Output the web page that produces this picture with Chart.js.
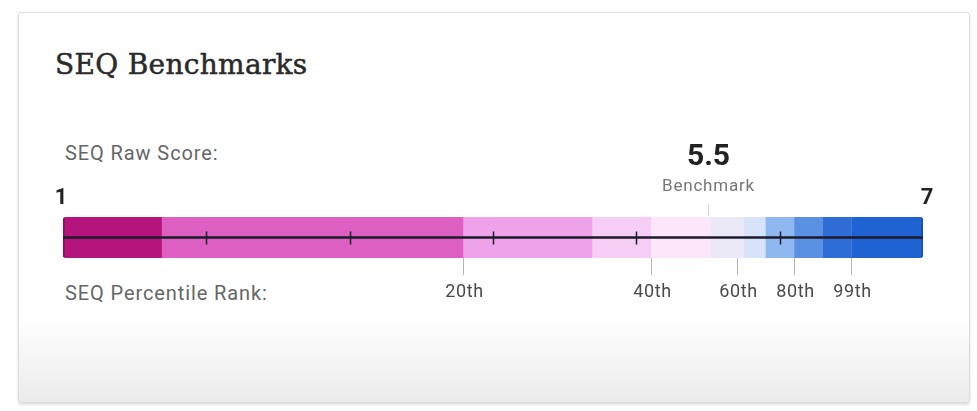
<!DOCTYPE html>
<html>
<head>
<meta charset="utf-8">
<script src="https://cdn.jsdelivr.net/npm/chart.js@4.4.1/dist/chart.umd.min.js"></script>
<style>
  body { margin: 0; background: #fff; }
  #wrap { position: relative; width: 977px; height: 411px; overflow: hidden; }
  .card {
    position: absolute; left: 18px; top: 12px; width: 950px; height: 389px;
    border: 1px solid #dcdcdc; border-radius: 3px;
    background: linear-gradient(to bottom, #fff 0%, #fff 78%, #ebebeb 100%);
    box-shadow: 0 2px 3px rgba(0,0,0,0.12);
  }
  .txt { position: absolute; line-height: 1; white-space: nowrap; }
  #title { left: 55px; top: 48px; font: 28px "DejaVu Serif", serif; color: #2a2a2a; letter-spacing: 0.3px; -webkit-text-stroke: 0.5px #2a2a2a; }
  .lab { left: 65px; font: 20px Roboto, sans-serif; color: #666; letter-spacing: 0.9px; }
  #raw { top: 141px; }
  #pct { top: 281px; }
  #chartBox { position: absolute; left: 0; top: 0; width: 977px; height: 411px; }
</style>
</head>
<body>
<div id="wrap">
  <div class="card"></div>
  <div id="title" class="txt">SEQ Benchmarks</div>
  <div id="raw" class="txt lab">SEQ Raw Score:</div>
  <div id="pct" class="txt lab">SEQ Percentile Rank:</div>
  <div id="chartBox"><canvas id="seqChart"></canvas></div>
</div>
<script>
// raw score scale
var scoreMin = 1;
var scoreMax = 7;
var scoreTicks = [2, 3, 4, 5, 6];
var benchmark = 5.5;

// colour bands (raw score edges)
var bandEdges = [1, 1.69, 3.79, 4.69, 5.10, 5.52, 5.75, 5.90, 6.10, 6.30, 6.50, 7];
var bandColors = ['#b5147c', '#dc5fc1', '#eea2ea', '#f6cdf4', '#fbe7f9', '#ebe8f8',
                  '#d6e3f8', '#8eb8ef', '#5a91e2', '#2e6cd6', '#1f63d2'];

// percentile rank marks
var pctLabels = ['20th', '40th', '60th', '80th', '99th'];
var pctValues = [3.79, 5.10, 5.70, 6.10, 6.50];

var datasets = [];
for (var i = 0; i < bandColors.length; i++) {
  var first = i == 0, last = i == bandColors.length - 1;
  datasets.push({
    data: [[bandEdges[i], bandEdges[i + 1]]],
    backgroundColor: bandColors[i],
    borderColor: first ? '#8e0d60' : '#154fb0',
    borderWidth: {left: first ? 2 : 0, right: last ? 2 : 0, top: 0, bottom: 0},
    borderSkipped: false,
    borderRadius: first ? {topLeft: 3, bottomLeft: 3} : (last ? {topRight: 3, bottomRight: 3} : 0),
    barPercentage: 1,
    categoryPercentage: 1
  });
}

//draw the axis line, markers and labels on top of the bands
var markerPlugin = {
  id: 'markers',
  afterDatasetsDraw: function (chart) {
    var ctx = chart.ctx, x = chart.scales.x, area = chart.chartArea;
    var midY = (area.top + area.bottom) / 2;
    ctx.save();
    // center line
    ctx.strokeStyle = '#1d1b2b';
    ctx.lineWidth = 2.5;
    ctx.beginPath();
    ctx.moveTo(x.getPixelForValue(scoreMin), midY);
    ctx.lineTo(x.getPixelForValue(scoreMax), midY);
    ctx.stroke();
    // raw score ticks
    ctx.lineWidth = 1.5;
    scoreTicks.forEach(function (v) {
      var px = Math.round(x.getPixelForValue(v)) + 0.5;
      ctx.beginPath();
      ctx.moveTo(px, midY - 6);
      ctx.lineTo(px, midY + 7);
      ctx.stroke();
    });
    // percentile ticks + labels
    ctx.strokeStyle = '#b5b5b5';
    ctx.lineWidth = 1;
    ctx.fillStyle = '#4a4a4a';
    ctx.font = '18px Roboto, sans-serif';
    ctx.letterSpacing = '0.6px';
    ctx.textAlign = 'center';
    ctx.textBaseline = 'alphabetic';
    pctValues.forEach(function (v, k) {
      var px = Math.round(x.getPixelForValue(v)) + 0.5;
      ctx.beginPath();
      ctx.moveTo(px, area.bottom);
      ctx.lineTo(px, area.bottom + 17);
      ctx.stroke();
      ctx.fillText(pctLabels[k], px + 1, 297);
    });
    // benchmark
    var bx = Math.round(x.getPixelForValue(benchmark)) + 0.5;
    ctx.strokeStyle = '#d0d0d0';
    ctx.beginPath();
    ctx.moveTo(bx, area.top - 13);
    ctx.lineTo(bx, area.top - 2);
    ctx.stroke();
    ctx.letterSpacing = '0px';
    ctx.fillStyle = '#222';
    ctx.font = 'bold 30px Roboto, sans-serif';
    ctx.fillText(String(benchmark), bx, 165);
    ctx.fillStyle = '#777';
    ctx.font = '17px Roboto, sans-serif';
    ctx.letterSpacing = '0.8px';
    ctx.fillText('Benchmark', bx, 191);
    // scale end labels
    ctx.letterSpacing = '0px';
    ctx.fillStyle = '#222';
    ctx.font = 'bold 22px Roboto, sans-serif';
    ctx.fillText(String(scoreMin), x.getPixelForValue(scoreMin) - 2, 204);
    ctx.fillText(String(scoreMax), x.getPixelForValue(scoreMax) + 4, 204);
    ctx.restore();
  }
};

new Chart('seqChart', {
  type: 'bar',
  data: { labels: ['SEQ'], datasets: datasets },
  options: {
    indexAxis: 'y',
    responsive: true,
    maintainAspectRatio: false,
    animation: false,
    layout: { padding: { left: 63, right: 54, top: 217, bottom: 153 } },
    scales: {
      x: { display: false, min: scoreMin, max: scoreMax },
      y: { display: false, stacked: true }
    },
    plugins: { legend: { display: false }, tooltip: { enabled: false } }
  },
  plugins: [markerPlugin]
});
</script>
</body>
</html>
